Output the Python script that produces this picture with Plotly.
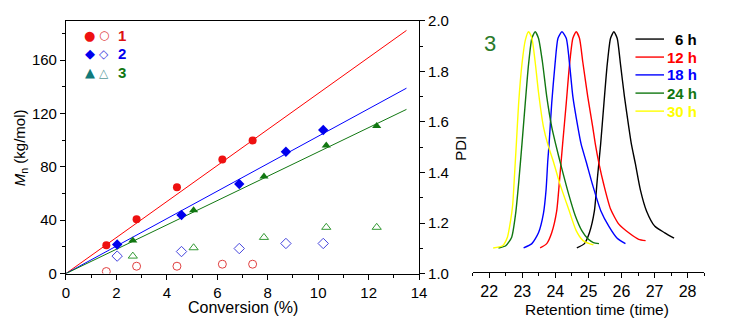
import plotly.graph_objects as go

# ---------------- data: left panel ----------------
conv_1 = [1.6, 2.8, 4.4, 6.2, 7.4]
mn_1 = [21.3, 40.8, 64.7, 85.5, 99.8]
pdi_1 = [1.008, 1.029, 1.029, 1.037, 1.037]

conv_2 = [2.03, 4.58, 6.87, 8.72, 10.2]
mn_2 = [21.8, 43.9, 67.1, 91.3, 107.6]
pdi_2 = [1.069, 1.087, 1.099, 1.119, 1.119]

conv_3 = [2.65, 5.06, 7.85, 10.32, 12.32]
mn_3 = [24.7, 47.4, 72.8, 96.0, 110.7]
pdi_3 = [1.069, 1.102, 1.143, 1.183, 1.183]

fit_x = [0, 13.5]
fit_1 = [0, 182.3]
fit_2 = [0, 139.0]
fit_3 = [0, 123.1]

# ---------------- data: right panel (GPC traces) ----------------
rt_6h = [24.65, 24.88, 25.03, 25.18, 25.27, 25.37, 25.47, 25.57, 25.67, 25.77, 25.87,
         25.97, 26.09, 26.22, 26.30, 26.42, 26.57, 26.76, 27.01, 27.31, 27.59]
in_6h = [0.00, 0.02, 0.07, 0.17, 0.32, 0.48, 0.67, 0.85, 0.97, 1.00, 0.97,
         0.85, 0.70, 0.56, 0.48, 0.39, 0.27, 0.17, 0.10, 0.07, 0.045]

rt_12h = [23.54, 23.74, 23.89, 24.04, 24.13, 24.22, 24.33, 24.43, 24.53, 24.63, 24.73,
          24.83, 24.98, 25.13, 25.21, 25.32, 25.47, 25.67, 25.92, 26.22, 26.52, 26.73]
in_12h = [0.00, 0.02, 0.07, 0.17, 0.32, 0.48, 0.67, 0.85, 0.97, 1.00, 0.97,
          0.86, 0.70, 0.56, 0.48, 0.39, 0.29, 0.18, 0.11, 0.07, 0.04, 0.034]

rt_18h = [23.04, 23.29, 23.49, 23.64, 23.72, 23.77, 23.81, 23.89, 23.99, 24.08, 24.20,
          24.33, 24.43, 24.53, 24.68, 24.78, 24.93, 25.13, 25.38, 25.62, 25.87, 26.12]
in_18h = [0.00, 0.02, 0.07, 0.16, 0.27, 0.40, 0.48, 0.67, 0.85, 0.97, 1.00,
          0.97, 0.85, 0.70, 0.56, 0.48, 0.40, 0.29, 0.17, 0.10, 0.045, 0.02]

rt_24h = [22.28, 22.50, 22.68, 22.80, 22.89, 22.99, 23.09, 23.19, 23.29, 23.39, 23.49,
          23.61, 23.74, 23.89, 24.01, 24.19, 24.40, 24.60, 24.80, 25.00, 25.15, 25.32]
in_24h = [0.00, 0.01, 0.05, 0.16, 0.30, 0.48, 0.67, 0.85, 0.97, 1.00, 0.97,
          0.86, 0.70, 0.56, 0.48, 0.37, 0.25, 0.15, 0.08, 0.04, 0.025, 0.02]

rt_30h = [22.12, 22.40, 22.55, 22.65, 22.71, 22.77, 22.82, 22.89, 22.99, 23.09, 23.19,
          23.29, 23.39, 23.49, 23.64, 23.77, 23.94, 24.13, 24.40, 24.63, 24.83, 25.03, 25.15]
in_30h = [0.00, 0.01, 0.05, 0.13, 0.20, 0.35, 0.48, 0.67, 0.85, 0.96, 1.00,
          0.97, 0.86, 0.72, 0.56, 0.48, 0.40, 0.30, 0.18, 0.08, 0.035, 0.02, 0.015]

gpc_labels = ["6 h", "12 h", "18 h", "24 h", "30 h"]
gpc_colors = ["#000000", "#ff0000", "#0000ff", "#117711", "#ffff00"]
gpc_x = [rt_6h, rt_12h, rt_18h, rt_24h, rt_30h]
gpc_y = [in_6h, in_12h, in_18h, in_24h, in_30h]

RED = "#ee1111"
BLUE = "#0000ee"
GREEN = "#117711"
FONT = "Liberation Sans, Arial, sans-serif"

W, H = 732, 328
def px(x):
    return x / W
def py(y):
    return 1 - y / H

fig = go.Figure()

# fit lines
for fy, c in [(fit_1, "#ff0000"), (fit_2, "#0000ff"), (fit_3, "#117711")]:
    fig.add_trace(go.Scatter(x=fit_x, y=fy, mode="lines", line=dict(color=c, width=1),
                             xaxis="x", yaxis="y", showlegend=False, hoverinfo="skip"))

# Mn filled markers
fig.add_trace(go.Scatter(x=conv_1, y=mn_1, mode="markers", xaxis="x", yaxis="y",
                         marker=dict(symbol="circle", size=8, color=RED), showlegend=False))
fig.add_trace(go.Scatter(x=conv_2, y=mn_2, mode="markers", xaxis="x", yaxis="y",
                         marker=dict(symbol="diamond", size=8, color=BLUE), showlegend=False))
fig.add_trace(go.Scatter(x=conv_3, y=mn_3, mode="markers", xaxis="x", yaxis="y",
                         marker=dict(symbol="triangle-up", size=8, color=GREEN), showlegend=False))

# PDI open markers
fig.add_trace(go.Scatter(x=conv_1, y=pdi_1, mode="markers", xaxis="x", yaxis="y2",
                         marker=dict(symbol="circle-open", size=8, color="#e04040", line=dict(width=1)),
                         showlegend=False))
fig.add_trace(go.Scatter(x=conv_2, y=pdi_2, mode="markers", xaxis="x", yaxis="y2",
                         marker=dict(symbol="diamond-open", size=8, color="#4444dd", line=dict(width=1)),
                         showlegend=False))
fig.add_trace(go.Scatter(x=conv_3, y=pdi_3, mode="markers", xaxis="x", yaxis="y2",
                         marker=dict(symbol="triangle-up-open", size=8, color="#339933", line=dict(width=1)),
                         showlegend=False))

# GPC traces
for xs, ys, c in zip(gpc_x, gpc_y, gpc_colors):
    fig.add_trace(go.Scatter(x=xs, y=ys, mode="lines", xaxis="x2", yaxis="y3",
                             line=dict(color=c, width=1.4, shape="spline", smoothing=0.6),
                             showlegend=False, hoverinfo="skip"))

tickfont_l = dict(family=FONT, size=15, color="black")
tickfont_r = dict(family=FONT, size=16, color="black")
minor_out = dict(ticks="outside", ticklen=3, tickcolor="black", tickwidth=1)

fig.update_layout(
    width=W, height=H,
    margin=dict(l=0, r=0, t=0, b=0),
    paper_bgcolor="white", plot_bgcolor="white",
    font=dict(family=FONT, size=14, color="black"),
    xaxis=dict(domain=[63 / W, 422 / W], range=[0, 14], anchor="y",
               showline=True, linecolor="black", linewidth=1, mirror=True,
               ticks="outside", ticklen=5, tickcolor="black", dtick=2, tick0=0,
               minor=dict(dtick=1, **minor_out),
               showgrid=False, zeroline=False, tickfont=tickfont_l),
    yaxis=dict(domain=[49 / H, 315.5 / H], range=[0, 189.5], anchor="x",
               showline=True, linecolor="black", linewidth=1,
               ticks="outside", ticklen=5, tickcolor="black", dtick=40, tick0=0,
               minor=dict(dtick=20, **minor_out),
               showgrid=False, zeroline=False, tickfont=tickfont_l),
    yaxis2=dict(overlaying="y", side="right", anchor="x", range=[1.0, 2.0],
                showline=True, linecolor="black", linewidth=1,
                ticks="outside", ticklen=5, tickcolor="black", dtick=0.2, tick0=1.0,
                tickformat=".1f", minor=dict(dtick=0.1, **minor_out),
                showgrid=False, zeroline=False, tickfont=tickfont_l),
    xaxis2=dict(domain=[476.5 / W, 711.8 / W], range=[21.5, 28.5], anchor="y3",
                showline=True, linecolor="black", linewidth=1,
                ticks="outside", ticklen=5, tickcolor="black", dtick=1, tick0=22,
                minor=dict(dtick=0.5, **minor_out),
                showgrid=False, zeroline=False, tickfont=tickfont_r),
    yaxis3=dict(domain=[51 / H, 315.5 / H], range=[-0.1096, 1.0504], anchor="x2",
                visible=False, showgrid=False, zeroline=False),
)

ann = []
# axis titles
ann.append(dict(text="<i>M</i><sub>n</sub> (kg/mol)", x=px(17), y=py(146), xref="paper", yref="paper",
                textangle=-90, showarrow=False, font=dict(family=FONT, size=15),
                xanchor="center", yanchor="middle"))
ann.append(dict(text="Conversion (%)", x=px(242.5), y=py(315), xref="paper", yref="paper",
                showarrow=False, font=dict(family=FONT, size=16), xanchor="center", yanchor="middle"))
ann.append(dict(text="PDI", x=px(464), y=py(147), xref="paper", yref="paper", textangle=-90,
                showarrow=False, font=dict(family=FONT, size=15), xanchor="center", yanchor="middle"))
ann.append(dict(text="Retention time (time)", x=px(602.5), y=py(316.5), xref="paper", yref="paper",
                showarrow=False, font=dict(family=FONT, size=15.5), xanchor="center", yanchor="middle"))
ann.append(dict(text="3", x=px(494.5), y=py(36.5), xref="paper", yref="paper",
                showarrow=False, font=dict(family=FONT, size=22, color="#2a7a2a"),
                xanchor="center", yanchor="middle"))

# left legend
left_leg = [("●", "○", "1", RED, "#e04040", 27.7),
            ("◆", "◇", "2", BLUE, "#4444dd", 47.0),
            ("▲", "△", "3", "#117a7a", "#559999", 67.0)]
lab_colors = {"1": "#dd1111", "2": "#0000ee", "3": "#117711"}
for f, o, lab, cf, co, yy in left_leg:
    ann.append(dict(text=f, x=px(87), y=py(yy), xref="paper", yref="paper", showarrow=False,
                    font=dict(family="DejaVu Sans", size=13, color=cf), xanchor="center", yanchor="middle"))
    ann.append(dict(text=o, x=px(101.7), y=py(yy), xref="paper", yref="paper", showarrow=False,
                    font=dict(family="DejaVu Sans", size=12, color=co), xanchor="center", yanchor="middle"))
    ann.append(dict(text="<b>%s</b>" % lab, x=px(114), y=py(yy), xref="paper", yref="paper",
                    showarrow=False, font=dict(family=FONT, size=15, color=lab_colors[lab]),
                    xanchor="left", yanchor="middle"))

# right legend
shapes = []
rows = [31.7, 50.7, 69.5, 88.7, 107.7]
for lab, c, yy in zip(gpc_labels, gpc_colors, rows):
    shapes.append(dict(type="line", xref="paper", yref="paper", x0=px(642), x1=px(671),
                       y0=py(yy), y1=py(yy), line=dict(color=c, width=1.4)))
    ann.append(dict(text="<b>%s</b>" % lab, x=px(707), y=py(yy), xref="paper", yref="paper",
                    showarrow=False, font=dict(family=FONT, size=15, color=c),
                    xanchor="right", yanchor="middle"))

fig.update_layout(annotations=ann, shapes=shapes)
fig.write_html("out.html")
